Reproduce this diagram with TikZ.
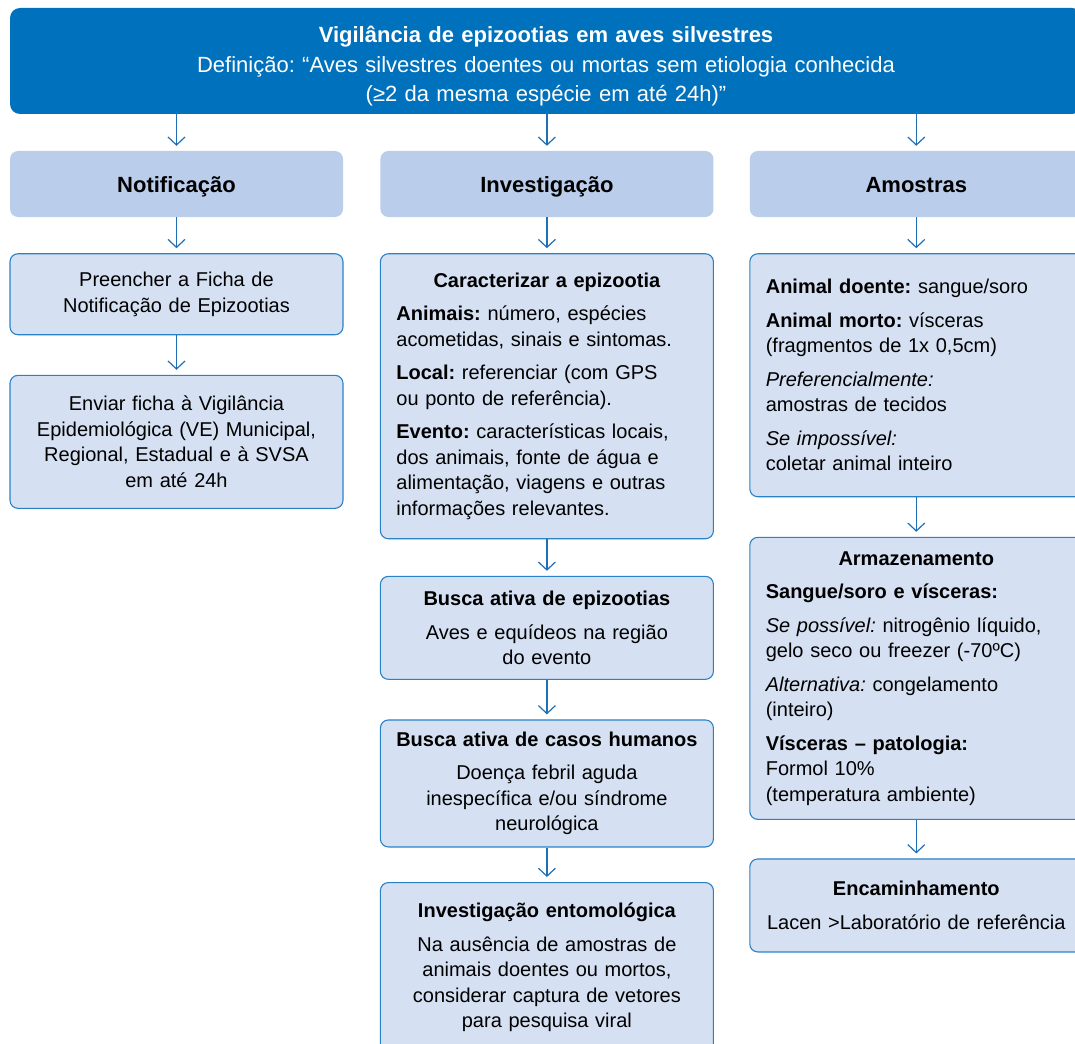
\documentclass[tikz,border=0pt]{standalone}
\usepackage{fontspec}
\setmainfont{Liberation Sans}
\usepackage{xcolor}
\usepackage{tikz}
\usetikzlibrary{arrows.meta,positioning}
\frenchspacing

\definecolor{survblue}{HTML}{0071BC}
\definecolor{headfill}{HTML}{BACDEB}
\definecolor{boxfill}{HTML}{D5E0F2}
\definecolor{boxline}{HTML}{2A82C6}
\definecolor{arrblue}{HTML}{1F6FB5}

\begin{document}
\begin{tikzpicture}[
    x=1pt, y=1pt,
    banner/.style={fill=survblue, rounded corners=10pt, minimum width=1072pt, minimum height=106pt,
        text width=1040pt, align=center, text=white, inner ysep=4pt,
        font=\fontsize{22}{29.5}\selectfont},
    head/.style={fill=headfill, rounded corners=8pt, minimum width=333pt, minimum height=66pt,
        text height=20pt, text depth=3pt, font=\fontsize{22}{26}\selectfont\bfseries},
    box/.style={draw=boxline, line width=1.1pt, fill=boxfill, rounded corners=8pt,
        minimum width=333pt, text width=301pt, inner xsep=16pt, inner ysep=6pt,
        font=\fontsize{20}{25.5}\selectfont},
    arr/.style={draw=arrblue, line width=1.2pt, -{Straight Barb[length=8pt,width=17pt]}, shorten >=5pt},
]
\useasboundingbox (0,0) rectangle (1075,-1043);
\clip (0,0) rectangle (1075,-1043);

% Banner
\node[banner] (surv) at (546,-61) {\rule{0pt}{27pt}\textbf{Vigilância de epizootias em aves silvestres}\\
    Definição: “Aves silvestres doentes ou mortas sem etiologia conhecida\\
    (≥2 da mesma espécie em até 24h)”};

% Column heads
\node[head] (notif) at (176.5,-184) {Notificação};
\node[head, right=37pt of notif] (invest) {Investigação};
\node[head, right=36pt of invest] (amostras) {Amostras};

% Notificacao
\node[box, align=center, minimum height=81pt, below=36pt of notif] (ficha) {Preencher a Ficha de\\ Notificação de Epizootias};
\node[box, align=center, minimum height=133pt, below=39.5pt of ficha] (envio) {Enviar ficha à Vigilância\\ Epidemiológica (VE) Municipal,\\ Regional, Estadual e à SVSA\\ em até 24h};

% Investigacao
\node[box, align=left, minimum height=285pt, below=36pt of invest] (caract) {\makebox[\linewidth]{\bfseries Caracterizar a epizootia}\\[8pt]
    \textbf{Animais:} número, espécies\\ acometidas, sinais e sintomas.\\[8pt]
    \textbf{Local:} referenciar (com GPS\\ ou ponto de referência).\\[8pt]
    \textbf{Evento:} características locais,\\ dos animais, fonte de água e\\ alimentação, viagens e outras\\ informações relevantes.};
\node[box, align=center, minimum height=103pt, below=36.5pt of caract] (buscaepi) {\makebox[\linewidth]{\bfseries Busca ativa de epizootias}\\[8pt] Aves e equídeos na região\\ do evento};
\node[box, align=center, minimum height=127pt, below=39.5pt of buscaepi] (buscahum) {\makebox[\linewidth]{\bfseries Busca ativa de casos humanos}\\[8pt] Doença febril aguda\\ inespecífica e/ou síndrome\\ neurológica};
\node[box, align=center, minimum height=170pt, below=34.5pt of buscahum] (ento) {\makebox[\linewidth]{\bfseries Investigação entomológica}\\[8pt] Na ausência de amostras de\\ animais doentes ou mortos,\\ considerar captura de vetores\\ para pesquisa viral};

% Amostras
\node[box, align=left, minimum height=243pt, below=36pt of amostras] (coleta) {\textbf{Animal doente:} sangue/soro\\[8pt]
    \textbf{Animal morto:} vísceras\\ (fragmentos de 1x 0,5cm)\\[8pt]
    \textit{Preferencialmente:}\\ amostras de tecidos\\[8pt]
    \textit{Se impossível:}\\ coletar animal inteiro};
\node[box, align=left, minimum height=282pt, below=39.5pt of coleta] (armaz) {\makebox[\linewidth]{\bfseries Armazenamento}\\[8pt]
    \textbf{Sangue/soro e vísceras:}\\[8pt]
    \textit{Se possível:} nitrogênio líquido,\\ gelo seco ou freezer (-70ºC)\\[8pt]
    \textit{Alternativa:} congelamento\\ (inteiro)\\[8pt]
    \textbf{Vísceras – patologia:}\\ Formol 10\%\\ (temperatura ambiente)};
\node[box, align=center, minimum height=93pt, below=38.5pt of armaz] (encam) {\makebox[\linewidth]{\bfseries Encaminhamento}\\[8pt] Lacen >Laboratório de referência};

% Arrows
\draw[arr] (surv.south -| notif) -- (notif);
\draw[arr] (surv.south -| invest) -- (invest);
\draw[arr] (surv.south -| amostras) -- (amostras);
\draw[arr] (notif) -- (ficha);
\draw[arr] (ficha) -- (envio);
\draw[arr] (invest) -- (caract);
\draw[arr] (caract) -- (buscaepi);
\draw[arr] (buscaepi) -- (buscahum);
\draw[arr] (buscahum) -- (ento);
\draw[arr] (amostras) -- (coleta);
\draw[arr] (coleta) -- (armaz);
\draw[arr] (armaz) -- (encam);
\end{tikzpicture}
\end{document}
